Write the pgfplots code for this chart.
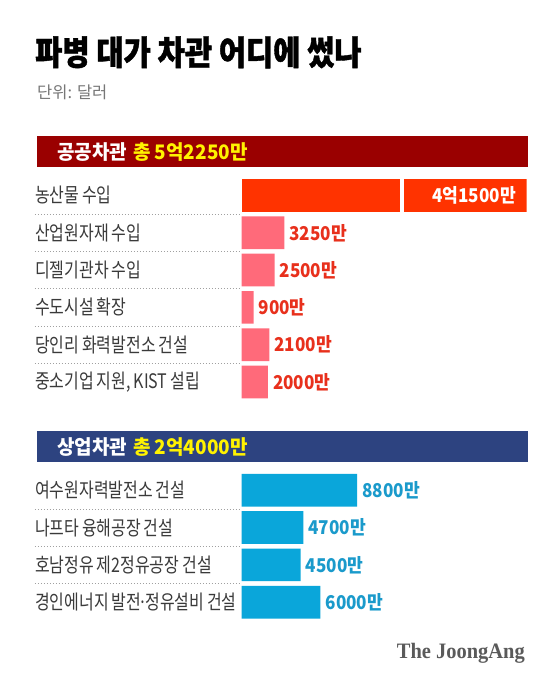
\documentclass[border=0pt]{standalone}
\usepackage{fontspec}
\setmainfont{Noto Sans CJK KR}
\newfontfamily\lab{Noto Sans CJK KR}[FakeStretch=0.8, WordSpace=0.8]
\newfontfamily\cond{Noto Sans CJK KR}[FakeStretch=0.95]
\newfontfamily\ttl{Noto Sans CJK KR}[FakeStretch=0.87, BoldFeatures={FakeBold=1.2}]
\newfontfamily\val{Noto Sans CJK KR}[FakeStretch=0.9]
\newfontfamily\logo{Liberation Serif}[FakeStretch=0.93]
\usepackage{pgfplots}
\pgfplotsset{compat=1.18}
\usepackage{pgfplotstable}

\definecolor{hdred}{HTML}{9A0000}
\definecolor{hdblue}{HTML}{2D4380}
\definecolor{hdyel}{HTML}{FFF200}
\definecolor{barbig}{HTML}{FF3300}
\definecolor{barpink}{HTML}{FF6A7A}
\definecolor{barblue}{HTML}{0AA6DA}
\definecolor{valred}{HTML}{E8301C}
\definecolor{valblue}{HTML}{1A9ACB}
\definecolor{labgray}{HTML}{3A3A3A}
\definecolor{subgray}{HTML}{777777}
\definecolor{dotgray}{HTML}{A0A0A0}
\definecolor{logogray}{HTML}{5A5A5A}

% 단위: 만 달러
\pgfplotstableread[col sep=comma]{
idx,value,label
1,3250,3250만
2,2500,2500만
3,900,900만
4,2100,2100만
5,2000,2000만
}\publictab

\pgfplotstableread[col sep=comma]{
idx,value,label
0,8800,8800만
1,4700,4700만
2,4500,4500만
3,6000,6000만
}\commtab

\pgfplotsset{
  rowaxis/.style={
    scale only axis, width=285pt,
    xmin=0, xmax=21720, y dir=reverse,
    axis line style={draw=none}, major tick length=0pt,
    xtick=\empty,
    clip mode=individual,
    yticklabel style={anchor=west, xshift=-206.7pt, inner sep=0pt,
      font=\lab\fontsize{20pt}{20pt}\selectfont, text=labgray},
  },
  rowbar/.style={xbar, bar shift=0pt, bar width=32.7pt, draw=none},
  vallab/.style={point meta=explicit symbolic, nodes near coords,
    nodes near coords style={anchor=west, inner sep=0pt, xshift=5pt,
      font=\val\bfseries\fontsize{19pt}{19pt}\selectfont, text=#1}},
}

\begin{document}
\begin{tikzpicture}[x=1pt,y=1pt]
\path[fill=white, use as bounding box] (0,0) rectangle (559,684);

% title
\node[anchor=base west, inner sep=0pt] at (35,619)
  {\ttl\bfseries\fontsize{34pt}{34pt}\selectfont 파병 대가 차관 어디에 썼나};
\node[anchor=base west, inner sep=0pt, text=subgray] at (37,585)
  {\fontsize{16.5pt}{16.5pt}\selectfont 단위: 달러};

% section headers
\fill[hdred] (36.5,517) rectangle (527.5,548);
\node[anchor=base west, inner sep=0pt] at (57,524.5)
  {\cond\bfseries\fontsize{20pt}{20pt}\selectfont \textcolor{white}{공공차관}\hspace{6pt}\textcolor{hdyel}{총 5억2250만}};
\fill[hdblue] (36.5,222) rectangle (527.5,253);
\node[anchor=base west, inner sep=0pt] at (57,229.5)
  {\cond\bfseries\fontsize{20pt}{20pt}\selectfont \textcolor{white}{상업차관}\hspace{6pt}\textcolor{hdyel}{총 2억4000만}};

% public loans
\begin{axis}[rowaxis,
  at={(241.7pt,507.15pt)}, anchor=north west, height=223.8pt,
  ymin=-0.5, ymax=5.5,
  ytick={0,1,2,3,4,5},
  yticklabels={농산물 수입, 산업원자재 수입, 디젤기관차 수입, 수도시설 확장, 당인리 화력발전소 건설, {중소기업 지원, KIST 설립}},
]
\addplot[rowbar, fill=barbig] coordinates {(41500,0)};
\addplot[rowbar, fill=barpink, vallab=valred] table[x=value, y=idx, meta=label] {\publictab};
\fill[white] (axis cs:12066,-0.5) rectangle (axis cs:12393,0.5);
\node[anchor=east, inner sep=0pt, text=white, font=\val\bfseries\fontsize{19pt}{19pt}\selectfont] at (axis cs:20907,0) {4억1500만};
\draw[dotgray, line width=0.8pt, dash pattern=on 1pt off 2pt]
  (axis cs:-15755,0.5) -- (axis cs:0,0.5)
  (axis cs:-15755,1.5) -- (axis cs:0,1.5)
  (axis cs:-15755,2.5) -- (axis cs:0,2.5)
  (axis cs:-15755,3.5) -- (axis cs:0,3.5)
  (axis cs:-15755,4.5) -- (axis cs:0,4.5);
\end{axis}

% commercial loans
\begin{axis}[rowaxis,
  at={(241.7pt,212.35pt)}, anchor=north west, height=149.2pt,
  ymin=-0.5, ymax=3.5,
  ytick={0,1,2,3},
  yticklabels={여수원자력발전소 건설, 나프타 융해공장 건설, 호남정유 제2정유공장 건설, 경인에너지 발전\kern-0.12em·\kern-0.12em정유설비 건설},
]
\addplot[rowbar, fill=barblue, vallab=valblue] table[x=value, y=idx, meta=label] {\commtab};
\draw[dotgray, line width=0.8pt, dash pattern=on 1pt off 2pt]
  (axis cs:-15755,0.5) -- (axis cs:0,0.5)
  (axis cs:-15755,1.5) -- (axis cs:0,1.5)
  (axis cs:-15755,2.5) -- (axis cs:0,2.5);
\end{axis}

% logo
\node[anchor=base east, inner sep=0pt, text=logogray] at (525,25)
  {\logo\bfseries\fontsize{22pt}{22pt}\selectfont The JoongAng};
\end{tikzpicture}
\end{document}
